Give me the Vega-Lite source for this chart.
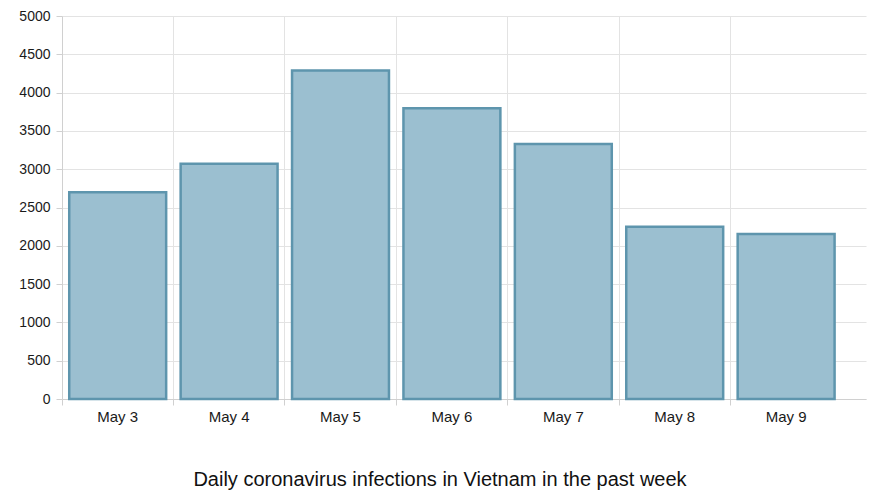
{
  "$schema": "https://vega.github.io/schema/vega-lite/v6.json",
  "autosize": {"type": "none"},
  "padding": {"left": 62, "top": 16, "right": 14, "bottom": 96},
  "width": 804,
  "height": 383,
  "background": "white",
  "title": {
    "text": "Daily coronavirus infections in Vietnam in the past week",
    "orient": "bottom",
    "anchor": "middle",
    "dx": -24,
    "offset": 46,
    "font": "Liberation Sans",
    "fontSize": 20,
    "fontWeight": "normal",
    "color": "#111111"
  },
  "data": {
    "values": [
      {"day": "May 3", "cases": 2700},
      {"day": "May 4", "cases": 3072},
      {"day": "May 5", "cases": 4287},
      {"day": "May 6", "cases": 3795},
      {"day": "May 7", "cases": 3329},
      {"day": "May 8", "cases": 2249},
      {"day": "May 9", "cases": 2155}
    ]
  },
  "mark": {
    "type": "bar",
    "fill": "#9bbfd0",
    "stroke": "#5e95ad",
    "strokeWidth": 2.5,
    "width": {"band": 0.87}
  },
  "encoding": {
    "x": {
      "field": "day",
      "type": "nominal",
      "sort": null,
      "scale": {"paddingInner": 0, "paddingOuter": 0.1085, "align": 0},
      "axis": {
        "title": null,
        "labelAngle": 0,
        "bandPosition": 0,
        "grid": true,
        "gridColor": "#e3e3e3",
        "domainColor": "#d0d0d0",
        "tickColor": "#d0d0d0",
        "tickSize": 6,
        "labelFont": "Liberation Sans",
        "labelFontSize": 15,
        "labelColor": "#1a1a1a",
        "labelPadding": 4
      }
    },
    "y": {
      "field": "cases",
      "type": "quantitative",
      "scale": {"domain": [0, 5000], "nice": false},
      "axis": {
        "title": null,
        "format": "d",
        "values": [0, 500, 1000, 1500, 2000, 2500, 3000, 3500, 4000, 4500, 5000],
        "grid": true,
        "gridColor": "#e3e3e3",
        "domainColor": "#d0d0d0",
        "tickColor": "#d0d0d0",
        "tickSize": 6,
        "labelFont": "Liberation Sans",
        "labelFontSize": 14,
        "labelColor": "#1a1a1a",
        "labelPadding": 6
      }
    }
  },
  "config": {"view": {"stroke": null}}
}
